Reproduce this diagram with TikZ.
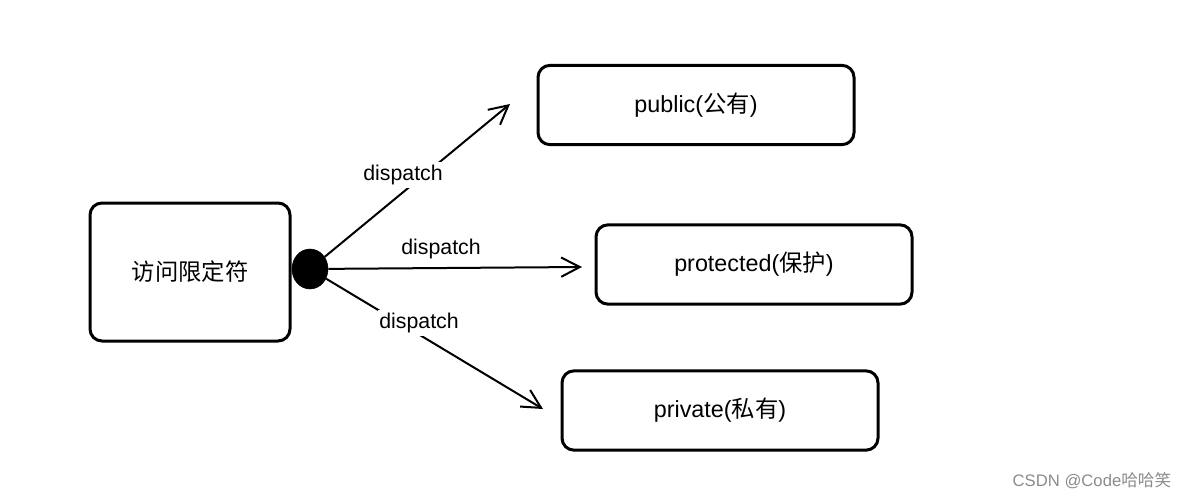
\documentclass[tikz,border=0pt]{standalone}
\usepackage{fontspec}
\setmainfont{Liberation Sans}
\newfontfamily\cjk{Noto Sans CJK SC}
\usetikzlibrary{arrows.meta,shapes.geometric}
\begin{document}
\begin{tikzpicture}[x=0.75pt,y=-0.75pt,
  box/.style={draw, line width=2.25pt, rounded corners=9pt, inner sep=0pt,
    minimum width=237pt, minimum height=59.5pt, font=\fontsize{17.5pt}{20pt}\selectfont},
  arr/.style={line width=1.5pt, -{Straight Barb[length=14pt,width=14.5pt,line width=1.5pt]}},
  lbl/.style={font=\fontsize{16pt}{18pt}\selectfont, fill=white, inner xsep=1pt, inner ysep=2pt}]
\useasboundingbox (0,0) rectangle (1193,500);
\fill[white] (0,0) rectangle (1193,500);
\node[box, minimum width=150pt, minimum height=103.5pt] (src) at (190,272) {\cjk 访问限定符};
\node[box] (pub) at (696,105) {\raisebox{-1.5pt}{public({\cjk 公有})}};
\node[box] (pro) at (754,264.5) {\raisebox{-1.5pt}{protected({\cjk 保护})}};
\node[box] (pri) at (720,410.5) {\raisebox{-1.5pt}{private({\cjk 私有})}};
\node[draw, fill=black, ellipse, minimum width=27pt, minimum height=30pt, inner sep=0pt] (dot) at (310,269) {};
\coordinate (e1) at (510,104);
\coordinate (e2) at (582,267);
\coordinate (e3) at (543,409);
\draw[arr] (dot) -- (e1);
\draw[arr] (dot) -- (e2);
\draw[arr] (dot) -- (e3);
\node[lbl] (l1) at (403,175) {dispatch};
\node[lbl] (l2) at (441,249) {dispatch};
\node[lbl] (l3) at (419,323) {dispatch};
\node[text=black!45, font=\fontsize{12.5pt}{14pt}\selectfont, inner sep=0pt] (wm) at (1092,481) {CSDN @Code{\cjk 哈哈笑}};
\end{tikzpicture}
\end{document}
